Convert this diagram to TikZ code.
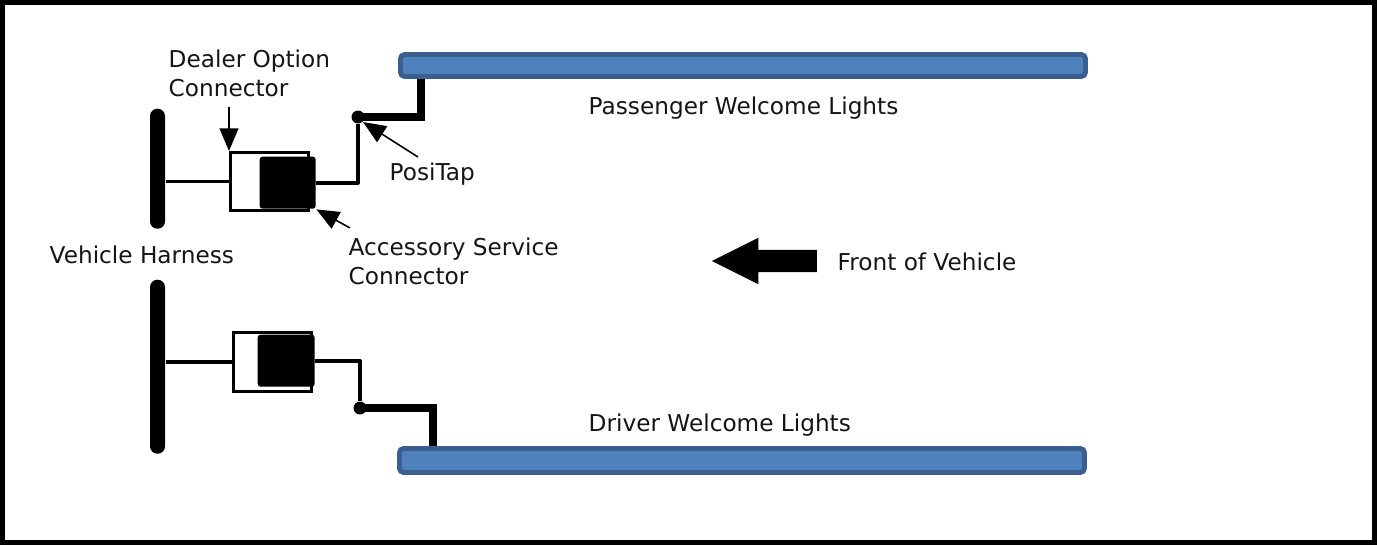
\documentclass[tikz,border=0pt]{standalone}
\usepackage{fontspec}
\setmainfont{DejaVu Sans}
\usetikzlibrary{arrows,shapes.arrows}
\definecolor{lightblue}{HTML}{4F81BD}
\definecolor{lightedge}{HTML}{3A5F8F}
\begin{document}
\begin{tikzpicture}[>=triangle 45]
\tikzstyle{label}=[inner sep=0pt,anchor=base west,align=left,font=\fontsize{6.6}{8.25}\selectfont,text=black!92]
\tikzstyle{lightbar}=[rectangle,draw=lightedge,fill=lightblue,line width=1.4pt,rounded corners=1.2pt,inner sep=0pt,minimum width=6.85cm,anchor=west]
\tikzstyle{harness}=[rectangle,fill=black,rounded corners=2.1pt,minimum width=0.15cm,inner sep=0pt,anchor=north]
\tikzstyle{shell}=[rectangle,draw,line width=0.85pt,inner sep=0pt,anchor=north west]
\tikzstyle{plug}=[rectangle,fill=black,rounded corners=0.8pt,inner sep=0pt,anchor=north west]
\tikzstyle{tap}=[circle,fill=black,minimum size=0.13cm,inner sep=0pt]
\tikzstyle{wire}=[draw,line width=1.05pt,line join=round]
\tikzstyle{feed}=[draw,line width=2pt,line join=miter]
\tikzstyle{pointer}=[draw,line width=0.45pt,->]
\useasboundingbox (0,0) rectangle (13.77,5.45);
\draw[line width=1.4pt] (0.025,0.025) rectangle (13.745,5.425);
% lights and harness
\node[lightbar,minimum height=0.22cm] (passenger) at (3.98,4.795) {};
\node[lightbar,minimum height=0.24cm] (driver) at (3.97,0.845) {};
\node[harness,minimum height=1.20cm] (harnesstop) at (1.575,4.37) {};
\node[harness,minimum height=1.74cm] (harnessbot) at (1.575,2.66) {};
% connectors
\node[shell,minimum width=0.78cm,minimum height=0.58cm] (shelltop) at (2.29,3.94) {};
\node[plug,minimum width=0.56cm,minimum height=0.52cm] (plugtop) at (2.59,3.89) {};
\node[shell,minimum width=0.78cm,minimum height=0.59cm] (shellbot) at (2.32,2.14) {};
\node[plug,minimum width=0.57cm,minimum height=0.52cm] (plugbot) at (2.57,2.11) {};
% posi taps
\node[tap] (taptop) at (3.58,4.28) {};
\node[tap] (tapbot) at (3.60,1.37) {};
% wires
\path[wire] (harnesstop.east |- shelltop.west) to (shelltop.west);
\path[wire] (plugtop.east) -| (taptop);
\path[wire] (harnessbot.east |- shellbot.west) to (shellbot.west);
\path[wire] (plugbot.east) -| (tapbot);
\path[feed,line width=2.4pt] (taptop.center) -| (passenger.south west -| 4.21,0);
\path[feed] (tapbot.center) -| (driver.north west -| 4.33,0);
% labels
\node[label] (dealerlabel) at (1.68,4.49) {Dealer Option\\Connector};
\node[label] (positaplabel) at (3.89,3.65) {PosiTap};
\node[label] (accesslabel) at (3.48,2.61) {Accessory Service\\Connector};
\node[label] (harnesslabel) at (0.49,2.82) {Vehicle Harness};
\node[label] (passengerlabel) at (5.88,4.31) {Passenger Welcome Lights};
\node[label] (driverlabel) at (5.88,1.14) {Driver Welcome Lights};
\node[label] (frontlabel) at (8.37,2.75) {Front of Vehicle};
% pointers
\coordinate (dealerstart) at (2.29,4.38);
\coordinate (positapstart) at (4.18,3.88);
\coordinate (accessstart) at (3.50,3.17);
\path[pointer] (dealerstart) to (shelltop.north west);
\path[pointer] (positapstart) to (taptop.south east);
\path[pointer] (accessstart) to (plugtop.south east);
% direction
\node[single arrow,fill=black,text height=0.21cm,single arrow head extend=0.12cm,minimum height=1.05cm,minimum width=0.45cm,single arrow tip angle=53,shape border rotate=180,inner sep=0pt] (frontarrow) at (7.755,2.84) {};
\end{tikzpicture}
\end{document}
